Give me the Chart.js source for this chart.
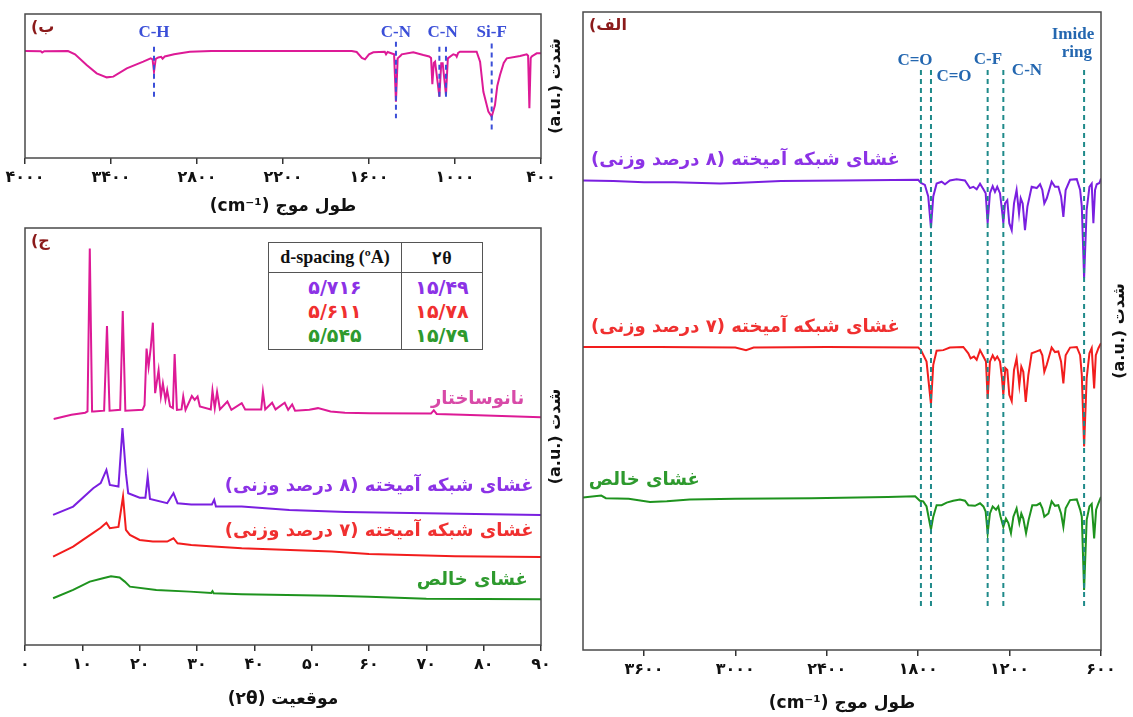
<!DOCTYPE html>
<html>
<head>
<meta charset="utf-8">
<script src="https://cdn.jsdelivr.net/npm/chart.js@4.4.1/dist/chart.umd.min.js"></script>
<style>
  body { margin:0; background:#fff; width:1133px; height:717px; position:relative; overflow:hidden; font-family:'DejaVu Sans', sans-serif; }
  canvas { position:absolute; }
  #xrdTable { position:absolute; left:268px; top:242px; border-collapse:collapse; background:#fff; z-index:5; }
  #xrdTable th, #xrdTable td { border:1.5px solid #555; text-align:center; padding:0; }
  #xrdTable th { height:29px; font:bold 18px 'Liberation Serif', serif; color:#111; }
  #xrdTable td { height:76px; font:bold 19px 'DejaVu Sans', sans-serif; line-height:24px; }
</style>
</head>
<body>
<canvas id="ftirNanoChart" width="580" height="222" style="left:0;top:0" dir="rtl"></canvas>
<canvas id="xrdChart" width="580" height="501" style="left:0;top:216px" dir="rtl"></canvas>
<canvas id="ftirChart" width="573" height="717" style="left:560px;top:0" dir="rtl"></canvas>
<table id="xrdTable">
  <tr><th style="width:132px">d-spacing (ºA)</th><th style="width:80px">۲θ</th></tr>
  <tr><td id="dCol"></td><td id="tCol"></td></tr>
</table>
<script>
// ---- data: FTIR of the nanostructure (panel ب), wavenumber cm-1 / intensity a.u.
const nanoFtir = [[4000,74.3],[3890,74.2],[3880,73.3],[3865,74.2],[3700,74.3],[3651,72.0],[3570,64.6],[3500,58.8],
  [3430,56.0],[3384,56.5],[3290,62.3],[3175,66.9],[3123,69.2],[3110,68.5],[3100,59.9],[3088,68.8],[3070,69.8],
  [3050,70.3],[3040,69.0],[3025,70.5],[2960,72.0],[2850,73.8],[2700,74.3],[1720,74.3],[1686,73.6],[1650,69.5],
  [1628,68.5],[1600,72.0],[1570,73.4],[1490,73.8],[1481,72.0],[1470,73.6],[1425,72.0],[1412,39.1],[1400,69.2],
  [1380,71.0],[1372,72.0],[1291,73.4],[1221,71.5],[1180,70.5],[1167,69.4],[1158,51.2],[1148,66.0],[1139,66.9],
  [1109,42.6],[1096,65.8],[1086,65.8],[1063,43.8],[1050,69.2],[1012,72.0],[995,71.5],[988,70.3],[978,73.0],
  [965,73.8],[849,73.8],[825,66.9],[802,46.0],[767,32.2],[744,28.7],[721,36.8],[705,50.0],[686,57.6],[660,66.0],
  [639,69.2],[546,70.8],[500,72.0],[490,71.0],[481,34.5],[472,69.2],[465,70.5],[430,72.7],[400,72.7]];
const nanoMarkWn = [3100, 1412, 1109, 1063, 744];
const nanoMarkTop = [77.3, 80.8, 77.3, 77.3, 79.6];
const nanoMarkBottom = [42.6, 27.6, 42.6, 42.6, 17.2];
const nanoMarkLabels = [['C-H', 3100], ['C-N', 1412], ['C-N', 1086], ['Si-F', 744]];
const nanoTicks = [4000, 3400, 2800, 2200, 1600, 1000, 400];

// ---- data: FTIR of the membranes (panel الف)
const ftir8 = [[4000,73.6],[3800,73.5],[3600,73.3],[3400,73.3],[3100,73.1],[3000,73.2],[2700,73.5],[2300,73.6],
  [1800,73.7],[1782,73.2],[1756,72.9],[1734,71.1],[1716,66.1],[1701,71.1],[1679,73.1],[1646,73.4],[1624,73.0],
  [1592,73.6],[1548,73.8],[1493,73.6],[1460,72.4],[1438,72.6],[1416,72.2],[1394,73.1],[1372,72.2],[1357,71.6],
  [1344,66.9],[1329,71.6],[1311,72.7],[1296,71.8],[1281,72.6],[1263,71.6],[1250,69.0],[1241,66.9],[1230,70.0],
  [1215,70.5],[1202,66.9],[1186,65.8],[1171,70.0],[1154,72.1],[1138,68.4],[1127,70.8],[1114,70.0],[1099,65.8],
  [1083,69.5],[1055,72.6],[1022,72.4],[1000,73.0],[985,72.1],[972,70.0],[956,70.8],[924,73.4],[902,72.6],
  [880,72.6],[862,71.1],[847,67.9],[832,72.1],[803,73.7],[759,73.8],[737,72.1],[726,69.5],[711,58.3],[694,69.0],
  [676,72.6],[661,73.1],[650,66.9],[639,72.1],[628,73.0],[610,73.2],[600,73.9]];
const ftir7 = [[4000,47.5],[3500,47.5],[3000,47.4],[2930,47.0],[2880,47.4],[2400,47.5],[1800,47.4],[1782,47.0],
  [1745,45.2],[1716,38.5],[1701,44.7],[1679,46.9],[1635,47.0],[1592,47.4],[1504,47.5],[1471,46.5],[1456,45.7],
  [1434,46.0],[1416,45.5],[1394,47.0],[1372,46.0],[1355,45.2],[1344,39.4],[1329,45.2],[1311,46.2],[1296,45.5],
  [1281,46.0],[1263,45.2],[1250,42.6],[1241,40.0],[1228,44.2],[1215,43.9],[1202,40.0],[1186,39.0],[1171,43.9],
  [1154,45.7],[1136,41.5],[1123,44.4],[1110,43.6],[1094,38.9],[1077,43.1],[1055,46.5],[1022,46.8],[1000,47.0],
  [985,46.2],[972,43.6],[956,44.7],[924,47.4],[902,46.7],[880,46.8],[862,45.2],[847,41.8],[832,46.2],[803,47.4],
  [759,47.5],[737,46.2],[726,43.1],[711,31.9],[694,42.6],[676,46.5],[661,47.3],[645,41.0],[634,46.2],[617,47.3],
  [600,48.1]];
const ftirPure = [[4000,23.9],[3880,24.2],[3850,23.8],[3700,23.7],[3560,23.2],[3450,23.3],[3300,23.6],[3000,23.7],
  [2500,23.8],[2000,24.0],[1820,24.1],[1789,23.4],[1767,23.3],[1745,22.5],[1716,18.9],[1701,20.9],[1679,22.7],
  [1646,22.7],[1613,23.1],[1570,23.4],[1526,23.6],[1493,23.4],[1471,22.7],[1427,22.6],[1394,23.0],[1372,22.5],
  [1357,21.7],[1344,18.3],[1329,21.4],[1311,22.5],[1289,22.0],[1274,22.5],[1259,20.9],[1241,19.3],[1224,20.6],
  [1208,19.9],[1191,18.3],[1175,20.9],[1154,22.2],[1136,19.9],[1123,21.4],[1110,20.6],[1092,18.3],[1075,20.4],
  [1051,22.7],[1022,22.7],[1000,23.0],[985,22.2],[972,20.9],[945,21.4],[924,23.3],[902,22.6],[880,22.7],
  [862,21.4],[847,19.3],[832,22.2],[803,23.5],[759,23.6],[737,22.0],[726,20.9],[711,9.4],[694,20.4],[676,22.5],
  [661,22.9],[645,17.5],[632,22.0],[617,23.0],[600,24.0]];
const ftirMarkWn = [1782, 1716, 1344, 1241, 711];
const ftirMarkTop = 90.9, ftirMarkBottom = 6.7;
const ftirTicks = [3600, 3000, 2400, 1800, 1200, 600];

// ---- data: XRD (panel ج), 2θ / intensity a.u.
const xrdNano = [[5.0,54.2],[8.1,55.2],[10.5,55.7],[10.9,56.0],[11.3,95.1],[11.7,56.0],[12,56.0],[13.8,56.2],
  [14.3,76.5],[14.75,56.2],[16.6,56.4],[17.05,80.1],[17.5,56.2],[20.5,56.4],[20.85,57.5],[21.2,71.1],[21.55,66.7],
  [21.95,71.5],[22.3,77.3],[22.7,60.4],[23.3,65.9],[23.7,59.6],[24.05,62.7],[24.5,58.8],[24.8,61.1],[25.3,57.2],
  [25.8,56.8],[26.1,69.8],[26.5,56.4],[27.3,56.5],[27.6,59.6],[28.0,56.4],[29.1,59.7],[29.6,58.8],[30.1,59.6],
  [30.5,57.2],[32.4,56.5],[32.7,61.0],[33.1,56.8],[33.5,60.7],[34.0,56.5],[35.3,58.4],[36.0,56.4],[37.8,58.0],
  [38.4,56.5],[41.2,56.5],[41.5,60.7],[41.9,56.5],[43.1,58.1],[43.7,56.5],[45.3,58.1],[45.9,56.4],[46.6,57.7],
  [47.1,56.2],[49.6,56.4],[51.1,56.8],[53.3,56.0],[55.8,55.7],[60.1,55.6],[70.8,55.5],[71.3,56.3],[71.8,55.4],
  [76.3,55.2],[90,54.6]];
const xrd8 = [[4.9,31.2],[8.4,33.2],[11.9,37.6],[13.2,38.8],[14.2,42.0],[14.8,38.4],[16.3,38.0],[17.0,52.0],
  [17.6,41.2],[18.0,36.4],[20.0,35.3],[21.0,35.3],[21.4,40.4],[21.8,35.0],[24.8,34.0],[25.9,36.4],[26.6,34.0],
  [29.0,33.7],[32.6,33.7],[33.0,34.8],[33.3,33.2],[37.8,33.2],[46.1,32.4],[56,31.9],[70,31.6],[90,31.2]];
const xrd7 = [[4.9,21.2],[8.4,23.6],[10.1,25.2],[11.9,26.9],[13.2,28.1],[14.2,29.3],[14.8,28.0],[16.3,28.3],
  [17.1,35.6],[17.6,27.6],[18.3,26.4],[20.0,25.2],[22.3,24.8],[24.8,24.8],[25.9,25.6],[26.6,24.4],[29.0,24.0],
  [32.9,23.6],[37.8,23.2],[53.5,22.4],[60,21.8],[75,21.3],[90,21.1]];
const xrdPure = [[4.9,11.2],[8.4,13.2],[11.3,15.2],[13.6,16.0],[15.0,16.5],[16.5,16.2],[17.4,15.2],[18.3,14.0],
  [22.9,13.2],[28.7,12.8],[32.5,12.5],[32.7,12.9],[32.9,12.4],[37.8,12.2],[53.5,11.8],[60,11.6],[70,11.1],[90,11.0]];
const xrdTicks = [0, 10, 20, 30, 40, 50, 60, 70, 80, 90];
const dSpacing = [5.716, 5.611, 5.545];
const twoTheta = [15.49, 15.78, 15.79];

const C_NANO = '#dd1a96', C_8 = '#7a1fe0', C_7 = '#f21d1d', C_PURE = '#1e931e';
const T_NANO = '#d84aa8', T_8 = '#8c32e6', T_7 = '#f03030', T_PURE = '#2e9a2e';
const FA = "'DejaVu Sans', sans-serif";
const SERIF = "'Liberation Serif', serif";
const Y_TITLE = 'شدت (\u2066a.u.\u2069)';

const toFa = v => String(v).replace(/\d/g, d => '۰۱۲۳۴۵۶۷۸۹'[d]).replace('.', '/');

// table in panel ج
const rowColors = [T_8, T_7, T_PURE];
document.getElementById('dCol').innerHTML = dSpacing.map((v, i) => `<div style="color:${rowColors[i]}">${toFa(v.toFixed(3))}</div>`).join('');
document.getElementById('tCol').innerHTML = twoTheta.map((v, i) => `<div style="color:${rowColors[i]}">${toFa(v.toFixed(2))}</div>`).join('');

function line(pairs, color) {
  return { data: pairs.map(([x, y]) => ({x, y})), borderColor: color, borderWidth: 2, pointRadius: 0, tension: 0, fill: false };
}
function marker(x, top, bottom, color) {
  return { data: [{x, y: top}, {x, y: bottom}], borderColor: color, borderWidth: 2, borderDash: [5, 4], pointRadius: 0, fill: false };
}

// draws the frame, panel tag, vertical title and the text notes
function notes(items, tag, titleOffset) {
  return {
    id: 'notes',
    afterDatasetsDraw(chart) {
      const {ctx, chartArea: a, scales: {x, y}} = chart;
      ctx.save();
      ctx.strokeStyle = '#4a4a4a';
      ctx.lineWidth = 1.5;
      ctx.strokeRect(a.left, a.top, a.width, a.height);
      ctx.textBaseline = 'middle';
      items.forEach(it => {
        ctx.font = it.font;
        ctx.fillStyle = it.color;
        ctx.textAlign = it.align || 'center';
        ctx.direction = it.rtl ? 'rtl' : 'ltr';
        ctx.fillText(it.text, x.getPixelForValue(it.x), y.getPixelForValue(it.y));
      });
      ctx.direction = 'rtl';
      ctx.textAlign = 'left';
      ctx.fillStyle = '#8b1a1a';
      ctx.font = 'bold 16px ' + FA;
      ctx.fillText(tag, a.left + 6, a.top + 14);
      ctx.translate(a.right + titleOffset, (a.top + a.bottom) / 2);
      ctx.rotate(-Math.PI / 2);
      ctx.textAlign = 'center';
      ctx.fillStyle = '#111';
      ctx.font = 'bold 16px ' + FA;
      ctx.fillText(Y_TITLE, 0, 0);
      ctx.restore();
    }
  };
}

function xScale(min, max, reverse, ticks, title, height, titlePad) {
  return {
    type: 'linear', min, max, reverse,
    afterBuildTicks: s => { s.ticks = ticks.map(v => ({value: v})); },
    afterFit: s => { s.height = height; },
    grid: { display: true, drawOnChartArea: false, drawTicks: true, tickLength: 6, color: '#333', lineWidth: 1.5 },
    border: { display: false },
    ticks: { callback: v => toFa(v), font: {family: FA, size: 16, weight: 'bold'}, color: '#111', padding: 4, maxRotation: 0, autoSkip: false },
    title: { display: true, text: title, font: {family: FA, size: 17, weight: 'bold'}, color: '#111', padding: {top: 0, bottom: titlePad} }
  };
}

function baseOptions(padding, x) {
  return {
    responsive: false, animation: false, devicePixelRatio: 1,
    layout: { padding },
    plugins: { legend: { display: false }, tooltip: { enabled: false } },
    scales: { x, y: { display: false, min: 0, max: 100 } }
  };
}

const blueBold = 'bold 17px ' + SERIF;
const faBold = 'bold 18px ' + FA;

// panel ب
new Chart(document.getElementById('ftirNanoChart'), {
  type: 'line',
  data: { datasets: [
    ...nanoMarkWn.map((w, i) => marker(w, nanoMarkTop[i], nanoMarkBottom[i], '#3b4fd8')),
    line(nanoFtir, C_NANO)
  ] },
  options: baseOptions({left: 25, right: 39, top: 14, bottom: 0},
    xScale(400, 4000, true, nanoTicks, 'طول موج (cm⁻¹)', 64, 5)),
  plugins: [notes(nanoMarkLabels.map(([t, w]) => ({text: t, x: w, y: 86.8, font: blueBold, color: '#3b4fd8'})), 'ب)', 15)]
});

// panel ج
new Chart(document.getElementById('xrdChart'), {
  type: 'line',
  data: { datasets: [line(xrdNano, C_NANO), line(xrd8, C_8), line(xrd7, C_7), line(xrdPure, C_PURE)] },
  options: baseOptions({left: 25, right: 39, top: 12, bottom: 0},
    xScale(0, 90, false, xrdTicks, 'موقعیت (۲θ)', 72, 7)),
  plugins: [notes([
    {text: 'نانوساختار', x: 87.1, y: 58.8, font: faBold, color: T_NANO, align: 'right', rtl: true},
    {text: 'غشای شبکه آمیخته (۸ درصد وزنی)', x: 88.7, y: 38.0, font: faBold, color: T_8, align: 'right', rtl: true},
    {text: 'غشای شبکه آمیخته (۷ درصد وزنی)', x: 88.7, y: 27.2, font: faBold, color: T_7, align: 'right', rtl: true},
    {text: 'غشای خالص', x: 87.7, y: 15.6, font: faBold, color: T_PURE, align: 'right', rtl: true}
  ], 'ج)', 15)]
});

// panel الف
new Chart(document.getElementById('ftirChart'), {
  type: 'line',
  data: { datasets: [
    ...ftirMarkWn.map(w => marker(w, ftirMarkTop, ftirMarkBottom, '#1f8a8a')),
    line(ftir8, C_8), line(ftir7, C_7), line(ftirPure, C_PURE)
  ] },
  options: baseOptions({left: 23, right: 32, top: 12, bottom: 0},
    xScale(600, 4000, true, ftirTicks, 'طول موج (cm⁻¹)', 67, 3)),
  plugins: [notes([
    {text: 'C=O', x: 1821, y: 92.4, font: blueBold, color: '#2467b0'},
    {text: 'C=O', x: 1565, y: 89.8, font: blueBold, color: '#2467b0'},
    {text: 'C-F', x: 1342, y: 92.6, font: blueBold, color: '#2467b0'},
    {text: 'C-N', x: 1086, y: 90.8, font: blueBold, color: '#2467b0'},
    {text: 'Imide', x: 784, y: 96.4, font: blueBold, color: '#2467b0'},
    {text: 'ring', x: 758, y: 93.7, font: blueBold, color: '#2467b0'},
    {text: 'غشای شبکه آمیخته (۸ درصد وزنی)', x: 1920, y: 76.8, font: faBold, color: T_8, align: 'right', rtl: true},
    {text: 'غشای شبکه آمیخته (۷ درصد وزنی)', x: 1920, y: 50.5, font: faBold, color: T_7, align: 'right', rtl: true},
    {text: 'غشای خالص', x: 3233, y: 26.6, font: faBold, color: T_PURE, align: 'right', rtl: true}
  ], 'الف)', 19)]
});
</script>
</body>
</html>
